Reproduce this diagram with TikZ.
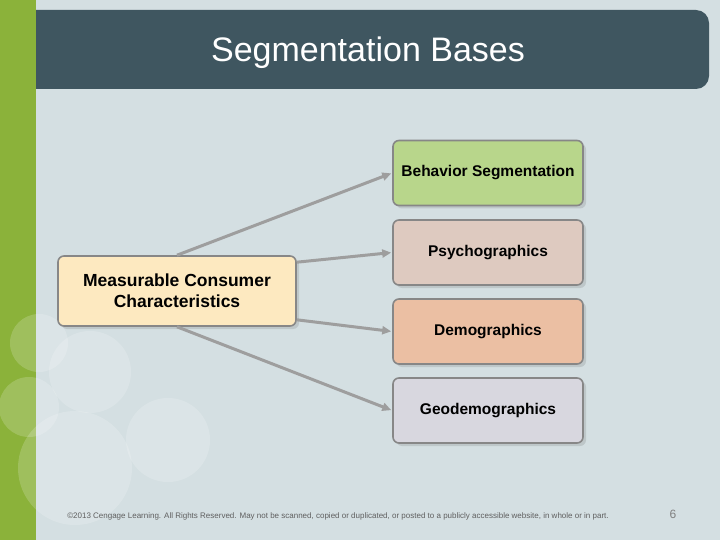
\documentclass[tikz,border=0pt]{standalone}
\usepackage{fontspec}
\setmainfont{Liberation Sans}
\usetikzlibrary{arrows.meta,positioning,shadows}
\definecolor{slideBg}{RGB}{212,223,226}
\definecolor{barGreen}{RGB}{139,178,58}
\definecolor{titleBar}{RGB}{63,86,96}
\definecolor{boxLine}{RGB}{135,135,135}
\definecolor{arrowGray}{RGB}{158,158,158}
\definecolor{fillBeh}{RGB}{184,214,139}
\definecolor{fillPsy}{RGB}{222,202,192}
\definecolor{fillDem}{RGB}{235,191,163}
\definecolor{fillGeo}{RGB}{216,215,223}
\definecolor{fillMcc}{RGB}{253,233,192}
\definecolor{footGray}{RGB}{95,95,95}

\begin{document}
\begin{tikzpicture}[
  x=1pt, y=-1pt,
  box/.style={rounded corners=6pt, draw=boxLine, line width=1.6pt,
              minimum width=190pt, minimum height=65pt, inner sep=2pt,
              font=\fontsize{15.5}{18}\selectfont\bfseries,
              drop shadow={shadow xshift=3pt, shadow yshift=-3pt, opacity=0.25}},
  src/.style={box, minimum width=238pt, minimum height=70pt, align=center,
              font=\fontsize{17.5}{21}\selectfont\bfseries},
  link/.style={draw=arrowGray, line width=3pt, shorten >=1pt,
               -{Triangle[length=9pt,width=8pt]}},
  bubble/.style={fill=white, opacity=0.18},
  ttl/.style={font=\fontsize{34}{40}\selectfont, text=white},
  foot/.style={font=\fontsize{8}{9}\selectfont, text=footGray},
]
\useasboundingbox (0,0) rectangle (720,540);

% ============ slide background ============
\fill[slideBg] (0,0) rectangle (720,540);
\fill[titleBar, rounded corners=13pt] (20,10) rectangle (709,89);
\fill[barGreen] (0,0) rectangle (36,540);
\node[ttl] (title) at (368,53) {Segmentation Bases};

% soft bubbles, lower left
\fill[bubble] (39,343) circle[radius=29];
\fill[bubble] (90,372) circle[radius=41];
\fill[bubble] (29,407) circle[radius=30];
\fill[bubble] (75,468) circle[radius=57];
\fill[bubble] (168,440) circle[radius=42];

% ============ source and bases ============
\node[src, fill=fillMcc] (mcc) at (177,291) {Measurable Consumer\\Characteristics};

\node[box, fill=fillBeh] (behav) at (488,173)   {Behavior Segmentation};
\node[box, fill=fillPsy] (psycho) at (488,252.5) {Psychographics};
\node[box, fill=fillDem] (demo) at (488,331.5)  {Demographics};
\node[box, fill=fillGeo] (geo) at (488,410.5)   {Geodemographics};

\draw[link] (mcc.north) -- (behav.west);
\draw[link] ([yshift=-7pt]mcc.north east) -- (psycho.west);
\draw[link] ([yshift=7pt]mcc.south east) -- (demo.west);
\draw[link] (mcc.south) -- (geo.west);

% ============ footer ============
\node[foot] (copy) at (338,516) {\textcopyright 2013 Cengage Learning. All Rights Reserved. May not be scanned, copied or duplicated, or posted to a publicly accessible website, in whole or in part.};
\node[font=\fontsize{12}{14}\selectfont, text=footGray!80] (pg) at (673,514) {6};

\end{tikzpicture}
\end{document}
